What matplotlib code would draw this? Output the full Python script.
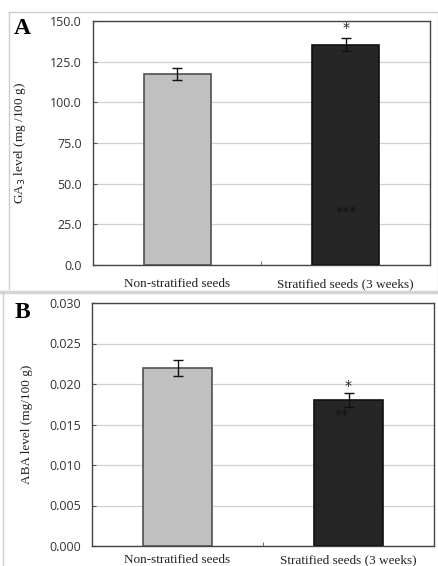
import matplotlib
matplotlib.use('Agg')
import matplotlib.pyplot as plt
from matplotlib.lines import Line2D

# data
categories = ['Non-stratified seeds', 'Stratified seeds (3 weeks)']
ga3_means = [117.5, 135.5]
ga3_err = [3.8, 4.2]
aba_means = [0.022, 0.018]
aba_err = [0.001, 0.0009]
ga3_ticks = [0, 25, 50, 75, 100, 125, 150]
aba_ticks = [0.000, 0.005, 0.010, 0.015, 0.020, 0.025, 0.030]

W, H = 439, 566
bar_colors = ['#c0c0c0', '#262626']
edge_colors = ['#505050', '#111111']
tick_font = 'Open Sans'
serif_font = 'Liberation Serif'


def px_axes(fig, left, top, right, bottom):
    return fig.add_axes([left / W, 1 - bottom / H, (right - left) / W, (bottom - top) / H])


def draw_panel(ax, means, errs, ticks, fmt, ylabel, xpad, label_x):
    x = range(len(categories))
    ax.bar(x, means, width=0.4, color=bar_colors, edgecolor=edge_colors,
           linewidth=1.2, zorder=3)
    ax.errorbar(x, means, yerr=errs, fmt='none', ecolor='#111111',
                elinewidth=1.0, capsize=3.5, capthick=1.0, zorder=4)
    ax.set_xlim(-0.5, 1.5)
    ax.set_ylim(ticks[0], ticks[-1])
    ax.set_yticks(ticks)
    ax.set_yticklabels([fmt.format(t) for t in ticks], fontsize=9,
                       family=tick_font, color='#333333')
    ax.tick_params(axis='y', direction='in', length=3, pad=8, color='#555555')
    ax.set_xticks(list(x))
    ax.set_xticklabels(categories, fontsize=9.5, family=serif_font, color='#222222')
    ax.tick_params(axis='x', length=0, pad=xpad)
    ax.set_xticks([0.5], minor=True)
    ax.tick_params(axis='x', which='minor', direction='in', length=3, color='#555555')
    ax.grid(axis='y', color='#d0d0d0', linewidth=0.9, zorder=0)
    ax.set_axisbelow(True)
    for s in ax.spines.values():
        s.set_color('#444444')
        s.set_linewidth(1.0)
    ax.set_ylabel(ylabel, fontsize=9.5, family=serif_font, color='#222222')
    ax.yaxis.set_label_coords(label_x, 0.5)


fig = plt.figure(figsize=(W / 100, H / 100), dpi=100)
fig.patch.set_facecolor('white')

# panel frames
fig.add_artist(Line2D([9 / W, 438 / W], [1 - 12 / H, 1 - 12 / H], color='#cccccc', lw=1))
fig.add_artist(Line2D([9 / W, 9 / W], [1 - 12 / H, 1 - 289 / H], color='#cccccc', lw=1))
fig.add_artist(Line2D([438 / W, 438 / W], [1 - 12 / H, 1 - 289 / H], color='#cccccc', lw=1))
fig.add_artist(Line2D([0, 1], [1 - 292 / H, 1 - 292 / H], color='#d4d4d4', lw=2.5))
fig.add_artist(Line2D([3 / W, 3 / W], [1 - 292 / H, 0], color='#cccccc', lw=1))

ax1 = px_axes(fig, 93, 21, 430, 265)
draw_panel(ax1, ga3_means, ga3_err, ga3_ticks, '{:.1f}', 'GA$_3$ level (mg /100 g)',
           xpad=9.5, label_x=-0.193)
ax1.text(1, 145.5, '*', ha='center', va='center', fontsize=10, color='#222222')
ax1.text(1, 32.5, '***', ha='center', va='center', fontsize=10, color='#111111')

ax2 = px_axes(fig, 92, 303, 434, 546)
draw_panel(ax2, aba_means, aba_err, aba_ticks, '{:.3f}', 'ABA level (mg/100 g)',
           xpad=6, label_x=-0.173)
ax2.text(1, 0.0197, '*', ha='center', va='center', fontsize=10, color='#222222')
ax2.text(0.96, 0.0162, '**', ha='center', va='center', fontsize=10, color='#111111')

fig.text(22 / W, 1 - 28 / H, 'A', fontsize=17, fontweight='bold', family=serif_font,
         ha='center', va='center')
fig.text(22 / W, 1 - 313 / H, 'B', fontsize=17, fontweight='bold', family=serif_font,
         ha='center', va='center')

fig.savefig('out.png', dpi=100, facecolor='white')
